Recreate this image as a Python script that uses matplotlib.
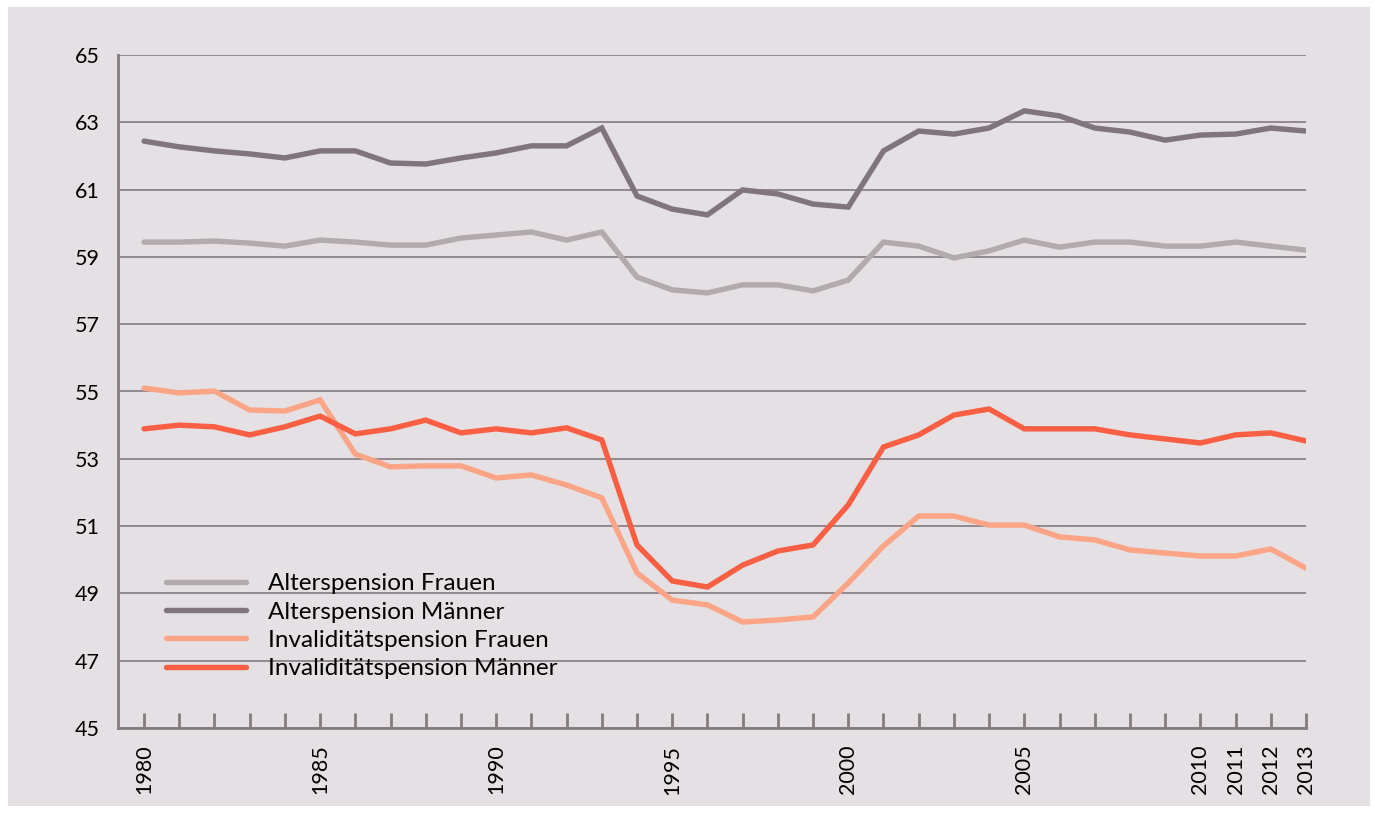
import matplotlib
matplotlib.use("Agg")
import matplotlib.pyplot as plt
import matplotlib.patches as patches

plt.rcParams['font.family'] = ['Lato', 'DejaVu Sans']

jahre = list(range(1980, 2014))

alters_frauen = [59.44, 59.44, 59.47, 59.41, 59.32, 59.50, 59.44, 59.35, 59.35, 59.56,
                 59.65, 59.74, 59.50, 59.74, 58.40, 58.02, 57.93, 58.17, 58.17, 57.99,
                 58.31, 59.44, 59.32, 58.97, 59.18, 59.50, 59.29, 59.44, 59.44, 59.32,
                 59.32, 59.44, 59.32, 59.20]
alters_maenner = [62.44, 62.27, 62.15, 62.06, 61.94, 62.15, 62.15, 61.79, 61.76, 61.94,
                  62.09, 62.30, 62.30, 62.83, 60.81, 60.42, 60.25, 60.99, 60.87, 60.57,
                  60.48, 62.15, 62.74, 62.65, 62.83, 63.34, 63.19, 62.83, 62.71, 62.47,
                  62.62, 62.65, 62.83, 62.74]
inval_frauen = [55.10, 54.96, 55.01, 54.45, 54.42, 54.75, 53.14, 52.76, 52.79, 52.79,
                52.43, 52.52, 52.22, 51.84, 49.61, 48.80, 48.66, 48.15, 48.21, 48.30,
                49.31, 50.41, 51.30, 51.30, 51.03, 51.03, 50.68, 50.59, 50.29, 50.20,
                50.11, 50.11, 50.32, 49.75]
inval_maenner = [53.89, 54.00, 53.95, 53.71, 53.95, 54.27, 53.74, 53.89, 54.15, 53.77,
                 53.89, 53.77, 53.92, 53.56, 50.44, 49.37, 49.19, 49.84, 50.26, 50.44,
                 51.63, 53.35, 53.71, 54.30, 54.48, 53.89, 53.89, 53.89, 53.71, 53.59,
                 53.47, 53.71, 53.77, 53.53]

namen = ['Alterspension Frauen', 'Alterspension Männer',
         'Invaliditätspension Frauen', 'Invaliditätspension Männer']
farben = ['#b3aaae', '#80757b', '#fca486', '#fa5f44']

x_labels = [1980, 1985, 1990, 1995, 2000, 2005, 2010, 2011, 2012, 2013]
y_ticks = list(range(45, 66, 2))

bg = '#e4e0e3'
achse = '#857b80'

fig = plt.figure(figsize=(13.75, 8.13), dpi=100)
fig.patch.set_facecolor('white')
fig.patches.append(patches.Rectangle((8 / 1375, 7 / 813), 1362 / 1375, 799 / 813,
                                     transform=fig.transFigure, facecolor=bg,
                                     edgecolor='none', zorder=-5))

ax = fig.add_axes([118 / 1375, 1 - 728 / 813, 1188 / 1375, 673 / 813])
ax.set_facecolor('none')

for werte, name, farbe in zip([alters_frauen, alters_maenner, inval_frauen, inval_maenner],
                              namen, farben):
    ax.plot(jahre, werte, color=farbe, lw=3.9, label=name, solid_capstyle='round',
            solid_joinstyle='miter', zorder=3)

ax.set_xlim(1979.26, 2013)
ax.set_ylim(45, 65)
ax.set_yticks(y_ticks)
ax.yaxis.grid(True, color=achse, lw=1.2)
ax.set_axisbelow(True)
ax.tick_params(axis='y', length=0, pad=13, labelsize=15.5)

ax.set_xticks(jahre)
ax.set_xticklabels([str(j) if j in x_labels else '' for j in jahre], rotation=90)
ax.tick_params(axis='x', direction='in', length=11, width=2, color=achse,
               pad=12, labelsize=15.5)

for s in ['top', 'right']:
    ax.spines[s].set_visible(False)
for s in ['left', 'bottom']:
    ax.spines[s].set_color(achse)
    ax.spines[s].set_linewidth(2)

leg = ax.legend(loc='lower left', bbox_to_anchor=(0.0216, 0.04), frameon=False,
                fontsize=17.5, handlelength=3.3, handletextpad=0.9, labelspacing=0.3)

fig.savefig('out.png', dpi=100, facecolor=fig.get_facecolor())
